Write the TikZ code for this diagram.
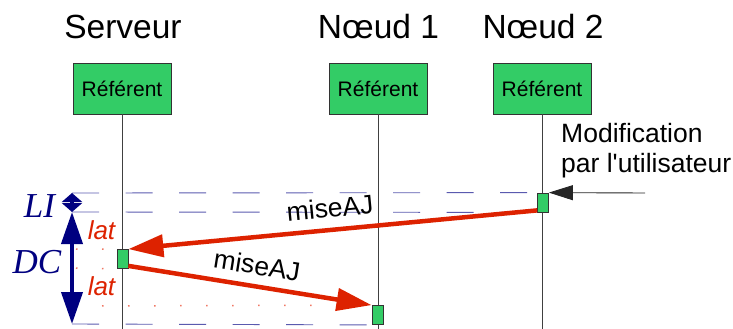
\documentclass[tikz,border=0pt]{standalone}
\usepackage{fontspec}
\setmainfont{Liberation Sans}
\newfontfamily\serifit{Liberation Serif}
\usetikzlibrary{arrows.meta}
\definecolor{boxgreen}{RGB}{51,204,102}
\definecolor{msgred}{RGB}{221,34,0}
\definecolor{navyblue}{RGB}{0,0,128}
\definecolor{dashblue}{RGB}{90,90,175}
\definecolor{dotred}{RGB}{240,120,100}
\begin{document}
\begin{tikzpicture}[x=1pt,y=-1pt,
  refbox/.style={draw=black!80, fill=boxgreen, minimum width=98pt, minimum height=51pt, inner sep=0pt, line width=0.8pt, font=\fontsize{21}{25}\selectfont},
  actbox/.style={draw=black!80, fill=boxgreen, minimum width=11pt, minimum height=19pt, inner sep=0pt, line width=0.8pt},
  titletext/.style={font=\fontsize{33.5}{40}\selectfont},
  lifeline/.style={draw=black!75, line width=0.8pt},
  guide/.style={draw=dashblue, line width=0.9pt, dash pattern=on 27pt off 26.5pt},
  dotguide/.style={draw=dotred, line width=1.5pt, dash pattern=on 1.5pt off 24.5pt},
  msg/.style={draw=msgred, line width=4.5pt, -{Triangle[length=35pt,width=22pt]}},
  msglabel/.style={font=\fontsize{26.5}{31}\selectfont, inner sep=0pt},
  latlabel/.style={text=msgred, font=\fontsize{26}{30}\selectfont\itshape, inner sep=0pt},
  measlabel/.style={text=navyblue, font=\fontsize{35}{40}\serifit\itshape, inner sep=0pt},
  meas/.style={draw=navyblue, line width=4pt},
]
\useasboundingbox (0,0) rectangle (733,329);

% titles
\node[titletext] (t0) at (123,27) {Serveur};
\node[titletext] (t1) at (378.5,27) {Nœud 1};
\node[titletext] (t2) at (543,27) {Nœud 2};

% referent boxes
\node[refbox] (r0) at (122,88.5) {Référent};
\node[refbox] (r1) at (378,88.5) {Référent};
\node[refbox] (r2) at (542,88.5) {Référent};

% bottoms of lifelines
\coordinate (b0) at (122,329);
\coordinate (b1) at (378,329);
\coordinate (b2) at (542,329);

% lifelines
\draw[lifeline] (r0.south) -- (b0);
\draw[lifeline] (r1.south) -- (b1);
\draw[lifeline] (r2.south) -- (b2);

% activation boxes
\node[actbox] (a0) at (122.5,259) {};
\node[actbox] (a1) at (377.5,315) {};
\node[actbox] (a2) at (543,202.5) {};

% guide start points
\coordinate (g1) at (72,193);
\coordinate (g2) at (72,212);
\coordinate (g3) at (72,324);
\coordinate (d1) at (76,249);
\coordinate (d2) at (76,268);
\coordinate (d3) at (76,306);

% dashed blue guides
\draw[guide] (g1) -- (a2.north west);
\draw[guide] (g2) -- (a2.south west);
\draw[guide] (g3) -- (a1.south west);

% dotted red guides
\draw[dotguide] (d1) -- (a0.north west);
\draw[dotguide] (d2) -- (a0.south west);
\draw[dotguide] (d3) -- (a1.north west);

% user modification
\coordinate (ext) at (645,193);
\draw[draw=black!85, line width=0.9pt, -{Triangle[length=24pt,width=15pt]}] (ext) -- (a2.north east);
\node[font=\fontsize{26.5}{30}\selectfont, align=left, anchor=north west, inner sep=0pt] (mod) at (561,123) {Modification\\par l\textquotesingle utilisateur};

% messages
\draw[msg] ([yshift=2pt]a2.south west) -- (a0.north east);
\draw[msg] ([yshift=3pt]a0.south east) -- (a1.north west);
\node[msglabel, rotate=5.6] (m1) at (330,208) {miseAJ};
\node[msglabel, rotate=-9] (m2) at (257,265) {miseAJ};

% lat labels
\node[latlabel] (lat1) at (101.5,230) {lat};
\node[latlabel] (lat2) at (101.5,286) {lat};

% measures
\draw[meas, {Triangle[length=9pt,width=20pt]}-{Triangle[length=9pt,width=20pt]}] (g1) -- (g2);
\draw[meas, {Triangle[length=32pt,width=21pt]}-{Triangle[length=32pt,width=21pt]}] (g2) -- (g3);
\node[measlabel] (li) at (39.5,206) {LI};
\node[measlabel] (dc) at (37,262) {DC};
\end{tikzpicture}
\end{document}
